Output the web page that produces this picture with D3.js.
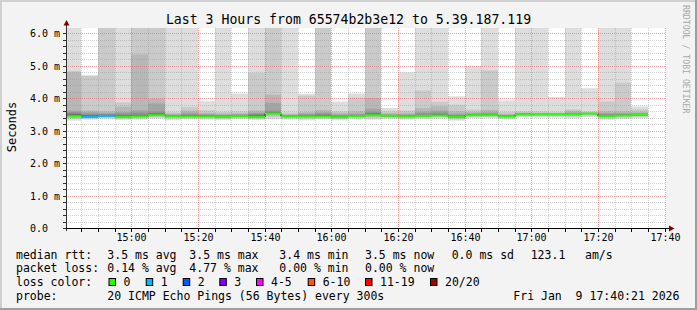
<!DOCTYPE html>
<html><head><meta charset="utf-8">
<script src="https://cdn.jsdelivr.net/npm/d3@7"></script>
<style>
body{margin:0;background:#f3f3f3}
svg{display:block}
text{font-family:"DejaVu Sans Mono",monospace;fill:#000}
</style>
</head><body>
<svg id="chart" width="697" height="310"></svg>
<script>
// ---------- DATA ----------
const titleText = "Last 3 Hours from 65574b2b3e12 to 5.39.187.119";
const yAxisTitle = "Seconds";
const creditText = "RRDTOOL / TOBI OETIKER";
const graphStart = "14:40:21";
const graphEnd = "17:40:21";
// 5-minute step starts (first one is cut by the graph start)
const colStarts = ["14:40","14:45","14:50","14:55","15:00","15:05","15:10","15:15","15:20","15:25",
  "15:30","15:35","15:40","15:45","15:50","15:55","16:00","16:05","16:10","16:15",
  "16:20","16:25","16:30","16:35","16:40","16:45","16:50","16:55","17:00","17:05",
  "17:10","17:15","17:20","17:25","17:30"];
const ping20 = [6.3,4.71,6.3,6.3,6.3,6.3,6.3,6.3,3.91,6.3, 4.15,6.3,6.3,6.3,4.14,6.3,3.90,4.15,6.3,3.70, 4.80,6.3,6.3,4.06,5.00,6.3,3.93,6.3,6.3,4.04, 6.3,4.31,6.3,6.3,3.75];
const ping19 = [4.84,4.69,6.3,3.87,6.3,6.3,3.57,3.73,3.63,3.58, 3.60,4.78,6.3,3.56,4.08,6.3,3.60,4.02,6.3,3.60, 3.62,4.24,3.89,3.80,3.65,4.86,3.58,3.60,3.60,3.58, 3.66,3.59,3.90,4.48,3.66];
const ping18 = [4.80,3.62,3.60,3.74,5.35,3.99,3.53,3.62,3.55,3.53, 3.54,3.62,4.11,3.51,3.57,3.64,3.55,3.60,4.01,3.54, 3.55,3.70,3.75,3.60,3.58,3.64,3.52,3.56,3.55,3.54, 3.61,3.56,3.60,3.60,3.58];
const ping17 = [3.62,3.57,3.55,3.58,3.63,3.84,3.50,3.56,3.52,3.50, 3.51,3.56,3.86,3.49,3.53,3.57,3.51,3.53,3.68,3.51, 3.51,3.59,3.62,3.53,3.54,3.57,3.49,3.54,3.53,3.53, 3.56,3.55,3.55,3.55,3.54];
const ping16 = [3.57,3.53,3.52,3.54,3.56,3.60,3.48,3.52,3.49,3.48, 3.49,3.53,3.62,3.47,3.50,3.53,3.48,3.50,3.59,3.49, 3.48,3.54,3.56,3.49,3.52,3.53,3.47,3.53,3.52,3.52, 3.54,3.54,3.51,3.52,3.52];
const ping14 = [3.52,3.48,3.49,3.48,3.49,3.53,3.46,3.48,3.47,3.46, 3.47,3.49,3.57,3.46,3.47,3.49,3.45,3.48,3.53,3.48, 3.46,3.49,3.51,3.46,3.50,3.50,3.46,3.52,3.51,3.51, 3.52,3.54,3.48,3.49,3.50];
const median = [3.45,3.43,3.46,3.43,3.44,3.48,3.44,3.44,3.44,3.43, 3.45,3.43,3.53,3.44,3.44,3.44,3.42,3.45,3.48,3.46, 3.44,3.46,3.47,3.43,3.48,3.48,3.44,3.50,3.50,3.50, 3.50,3.53,3.45,3.47,3.49];
const ping3 = [3.40,3.40,3.42,3.40,3.41,3.44,3.41,3.41,3.41,3.40, 3.42,3.40,3.46,3.41,3.41,3.41,3.39,3.42,3.42,3.43, 3.41,3.43,3.44,3.39,3.45,3.45,3.41,3.47,3.47,3.47, 3.47,3.49,3.42,3.44,3.46];
const ping2 = [3.36,3.38,3.39,3.37,3.38,3.41,3.38,3.38,3.38,3.37, 3.39,3.37,3.41,3.38,3.37,3.38,3.36,3.39,3.38,3.40, 3.38,3.40,3.41,3.35,3.42,3.42,3.38,3.44,3.44,3.44, 3.43,3.45,3.38,3.40,3.42];
const ping1 = [3.31,3.34,3.35,3.33,3.34,3.37,3.32,3.35,3.34,3.33, 3.36,3.33,3.35,3.34,3.32,3.35,3.32,3.35,3.34,3.36, 3.34,3.36,3.37,3.31,3.38,3.38,3.35,3.41,3.40,3.40, 3.38,3.41,3.34,3.36,3.38];
const lossCount = [0,1,1,0,0,0,0,0,0,0, 0,0,0,0,0,0,0,0,0,0, 0,0,0,0,0,0,0,0,0,0, 0,0,0,0,0];
const yTicks = [0,1,2,3,4,5,6];
const yTickLabels = ["0.0","1.0 m","2.0 m","3.0 m","4.0 m","5.0 m","6.0 m"];
const xTickLabels = ["15:00","15:20","15:40","16:00","16:20","16:40","17:00","17:20","17:40"];
const lossLabels = ["0","1","2","3","4-5","6-10","11-19","20/20"];
const lossColors = ["#26ff00","#00b8ff","#0059ff","#7e00ff","#ff00ff","#ff5500","#ff0000","#a00000"];
const rttStats = ["3.5 ms avg","3.5 ms max","3.4 ms min","3.5 ms now","0.0 ms sd","123.1","am/s"];
const lossStats = ["0.14 % avg","4.77 % max","0.00 % min","0.00 % now"];
const probeText = "20 ICMP Echo Pings (56 Bytes) every 300s";
const dateText = "Fri Jan  9 17:40:21 2026";

// ---------- DRAW ----------
const svg = d3.select("#chart");
const W = 697, H = 310;
const parseT = s => { const p = s.split(":").map(Number); return new Date(2026,0,9,p[0],p[1],p[2]||0); };
const t0 = parseT(graphStart), t1 = parseT(graphEnd);
const x = d3.scaleTime().domain([t0, t1]).range([65.8, 665.8]);
const yMax = 6.167;
const y = d3.scaleLinear().domain([0, yMax]).range([228, 28]);
const px = v => Math.round(v);

// background + 3D frame
svg.append("rect").attr("width",W).attr("height",H).attr("fill","#f3f3f3");
svg.append("rect").attr("x",0).attr("y",0).attr("width",W).attr("height",2).attr("fill","#d0d0d0");
svg.append("rect").attr("x",0).attr("y",0).attr("width",2).attr("height",H).attr("fill","#d0d0d0");
svg.append("rect").attr("x",0).attr("y",H-2).attr("width",W).attr("height",2).attr("fill","#9e9e9e");
svg.append("rect").attr("x",W-2).attr("y",0).attr("width",2).attr("height",H).attr("fill","#9e9e9e");

// canvas
svg.append("rect").attr("x",66).attr("y",28).attr("width",600).attr("height",200).attr("fill","#ffffff");

svg.append("defs").append("clipPath").attr("id","plotclip")
  .append("rect").attr("x",66).attr("y",28).attr("width",600).attr("height",200);

const cols = colStarts.map((s,i) => {
  const ts = parseT(s);
  const a = ts < t0 ? t0 : ts;
  const b = new Date(ts.getTime() + 5*60*1000);
  return {i, x0: px(x(a)), x1: px(x(b))};
});

const layers = [
  {lo: ping1, hi: ping20, c: "#dddddd"},
  {lo: ping2, hi: ping19, c: "#cacaca"},
  {lo: ping3, hi: ping18, c: "#b7b7b7"},
  {lo: median, hi: ping17, c: "#a4a4a4"},
  {lo: median, hi: ping16, c: "#919191"},
  {lo: median, hi: ping14, c: "#6b6b6b"}
];
const smoke = svg.append("g").attr("clip-path","url(#plotclip)");
layers.forEach(L => {
  smoke.append("g").selectAll("rect").data(cols).join("rect")
    .attr("x", d => d.x0).attr("width", d => d.x1 - d.x0)
    .attr("y", d => y(Math.min(L.hi[d.i], 6.4)))
    .attr("height", d => Math.max(0, y(L.lo[d.i]) - y(Math.min(L.hi[d.i], 6.4))))
    .attr("fill", L.c);
});

// grid
const grid = svg.append("g").attr("shape-rendering","crispEdges");
for (let k = 1; k <= 30; k++) {
  const v = k/5, yy = px(y(v)) + 0.5, major = k % 5 === 0;
  grid.append("line").attr("x1",66).attr("x2",666).attr("y1",yy).attr("y2",yy)
    .attr("stroke", major ? "rgba(235,90,90,0.55)" : "rgba(150,150,150,0.45)")
    .attr("stroke-dasharray","1,1");
}
const gridTimes = d3.timeMinute.every(5).range(new Date(t0.getTime()+1000), new Date(t1.getTime()+1000));
gridTimes.forEach(t => {
  const xx = px(x(t)) + 0.5, major = t.getMinutes() % 20 === 0;
  grid.append("line").attr("x1",xx).attr("x2",xx).attr("y1",28).attr("y2",228)
    .attr("stroke", major ? "rgba(235,90,90,0.55)" : "rgba(150,150,150,0.45)")
    .attr("stroke-dasharray","1,1");
});

// median line: thin dark step line + loss-coloured segments
const stepPts = cols.map(d => [d.x0, y(median[d.i])]);
stepPts.push([cols[cols.length-1].x1, y(median[cols.length-1])]);
svg.append("path").attr("d", d3.line().curve(d3.curveStepAfter)(stepPts))
  .attr("fill","none").attr("stroke","#202020").attr("stroke-width",1);
const lossIdx = n => n===0?0:n===1?1:n===2?2:n===3?3:n<=5?4:n<=10?5:n<=19?6:7;
svg.append("g").selectAll("line").data(cols).join("line")
  .attr("x1", d => d.x0).attr("x2", d => d.x1)
  .attr("y1", d => y(median[d.i])).attr("y2", d => y(median[d.i]))
  .attr("stroke", d => lossColors[lossIdx(lossCount[d.i])]).attr("stroke-width",2);

// axes
const ax = svg.append("g").attr("shape-rendering","crispEdges");
ax.append("line").attr("x1",66.5).attr("x2",66.5).attr("y1",231).attr("y2",24).attr("stroke","#303030");
ax.append("line").attr("x1",63).attr("x2",670).attr("y1",228.5).attr("y2",228.5).attr("stroke","#000");
for (let k = 0; k <= 30; k++) {
  const yy = px(y(k/5)) + 0.5;
  ax.append("line").attr("x1",63).attr("x2",66).attr("y1",yy).attr("y2",yy).attr("stroke","#303030");
}
gridTimes.forEach(t => {
  const xx = px(x(t)) + 0.5;
  ax.append("line").attr("x1",xx).attr("x2",xx).attr("y1",229).attr("y2",232).attr("stroke","#000");
});
svg.append("path").attr("d","M63.5,25.5 L69.5,25.5 L66.5,20 Z").attr("fill","#800000");
svg.append("path").attr("d","M669,225.5 L669,231.5 L674.5,228.5 Z").attr("fill","#800000");

// y labels
svg.append("g").selectAll("text").data(yTicks).join("text")
  .attr("x",30).attr("y", d => px(y(d)) + 3.8)
  .attr("font-size","10px").text((d,i) => yTickLabels[i]);

// x labels
const xLabTimes = xTickLabels.map(s => parseT(s));
svg.append("g").selectAll("text").data(xLabTimes).join("text")
  .attr("x", d => px(x(d)) + 0.5).attr("y",241).attr("text-anchor","middle")
  .attr("font-size","10px").text((d,i) => xTickLabels[i]);

// title
svg.append("text").attr("x",348.5).attr("y",24).attr("text-anchor","middle")
  .attr("font-size","13.2px").text(titleText);
// y axis title
svg.append("text").attr("transform","translate(15.5,127) rotate(-90)").attr("text-anchor","middle")
  .attr("font-size","12px").text(yAxisTitle);
// credit
svg.append("text").attr("transform","translate(683,5) rotate(90)")
  .attr("font-size","8.2px").style("fill","#a8a8a8").text(creditText);

// legend
const fs = "11.5px";
const leg = svg.append("g").attr("font-size", fs);
const row = (yy, items) => items.forEach(([xx, t]) =>
  leg.append("text").attr("x",xx).attr("y",yy).attr("xml:space","preserve").text(t));
row(258.5, [[16,"median rtt:"],[107.3,rttStats[0]],[189.3,rttStats[1]],[279.3,rttStats[2]],
  [365,rttStats[3]],[451.7,rttStats[4]],[530.7,rttStats[5]],[585,rttStats[6]]]);
row(272, [[16,"packet loss:"],[107.3,lossStats[0]],[189.3,lossStats[1]],[279.3,lossStats[2]],[365,lossStats[3]]]);
row(286, [[16,"loss color:"]]);
const boxX = [108.5,145.7,182.7,219.3,256,307.7,365,430];
lossLabels.forEach((lab,i) => {
  leg.append("rect").attr("x",boxX[i]+0.5).attr("y",278.5).attr("width",6.5).attr("height",7)
    .attr("fill",lossColors[i]).attr("stroke","#000").attr("stroke-width",1);
  leg.append("text").attr("x",boxX[i]+15).attr("y",286).text(lab);
});
row(299.5, [[16,"probe:"],[107.3,probeText],[513.3,dateText]]);
</script>
</body></html>
